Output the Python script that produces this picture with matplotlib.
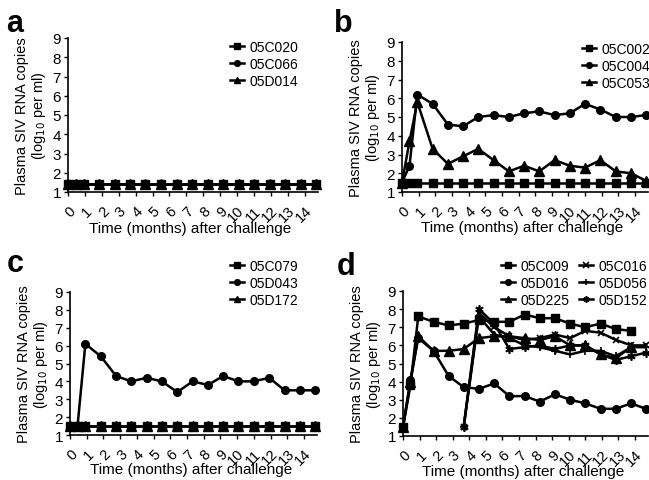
import numpy as np
import matplotlib
matplotlib.use("Agg")
import matplotlib.pyplot as plt

plt.rcParams['font.family'] = ['Liberation Sans', 'DejaVu Sans']

# sampling times (months after challenge), one every ~4 weeks
months = [0, 0.45, 0.92, 1.84, 2.76, 3.66, 4.58, 5.5, 6.42, 7.34, 8.25,
          9.17, 10.08, 11.0, 11.92, 12.84, 13.76, 14.65]
nan = np.nan

# panel a
a_05C020 = [1.4] * 18
a_05C066 = [1.4] * 18
a_05D014 = [1.4] * 18

# panel b
b_05C002 = [1.5] * 18
b_05C004 = [1.5, 2.4, 6.2, 5.7, 4.6, 4.5, 5.0, 5.1, 5.0, 5.2, 5.3, 5.1,
            5.2, 5.7, 5.4, 5.0, 5.0, 5.1]
b_05C053 = [1.5, 3.7, 5.8, 3.3, 2.5, 2.9, 3.3, 2.7, 2.1, 2.4, 2.1, 2.7,
            2.4, 2.3, 2.7, 2.1, 2.0, 1.6]

# panel c
c_05C079 = [1.5] * 18
c_05D043 = [1.5, 1.5, 6.1, 5.4, 4.3, 4.0, 4.2, 4.0, 3.4, 4.0, 3.8, 4.3,
            4.0, 4.0, 4.2, 3.5, 3.5, 3.5]
c_05D172 = [1.5] * 18

# panel d
d_05C009 = [1.5, 3.8, 7.6, 7.3, 7.1, 7.2, 7.4, 7.3, 7.3, 7.7, 7.5, 7.5,
            7.2, 7.0, 7.2, 6.9, 6.8, nan]
d_05D016 = [1.5, 4.1, 6.4, 5.7, 4.3, 3.7, 3.6, 3.9, 3.2, 3.2, 2.9, 3.3,
            3.0, 2.8, 2.5, 2.5, 2.8, 2.5]
d_05D225 = [1.5, 4.0, 6.5, 5.7, 5.7, 5.8, 6.4, 6.5, 6.5, 6.4, 6.3, 6.5,
            6.0, 6.0, 5.5, 5.3, 5.9, nan]
d_05C016 = [nan, nan, nan, nan, nan, 1.5, 7.8, 7.0, 6.5, 6.3, 6.4, 6.6,
            6.4, 6.8, 6.7, 6.3, 6.0, 6.0]
d_05D056 = [nan, nan, nan, nan, nan, 1.5, 7.6, 6.6, 6.4, 6.0, 5.9, 5.7,
            5.5, 5.7, 5.7, 5.4, 5.9, 5.9]
d_05D152 = [nan, nan, nan, nan, nan, 1.5, 8.0, 7.2, 5.8, 5.9, 6.0, 5.8,
            6.0, 6.0, 5.5, 5.2, 5.4, 5.6]

W, H = 649, 481
fig = plt.figure(figsize=(W / 100, H / 100), dpi=100)


def px_axes(left, top, right, bottom):
    return fig.add_axes([left / W, 1 - bottom / H, (right - left) / W, (bottom - top) / H])


styles = {
    's': dict(marker='s', ms=5.5),
    'o': dict(marker='o', ms=5.5),
    '^': dict(marker='^', ms=6.5),
    'x': dict(marker='x', ms=5, mew=1.2),
    '+': dict(marker='+', ms=6, mew=1.2),
    '*': dict(marker=(6, 2, 0), ms=6, mew=1.2),
}


def draw(ax, series):
    for name, vals, m in series:
        ax.plot(months, vals, color='black', lw=1.8, label=name, clip_on=False,
                **styles[m])
    ax.set_xlim(0, 14.78)
    ax.set_ylim(1, 9)
    ax.set_xticks(range(15))
    ax.set_xticklabels([str(i) for i in range(15)], rotation=45, ha='right',
                       rotation_mode='anchor', fontsize=10.5)
    ax.set_yticks(range(1, 10))
    ax.tick_params(axis='y', labelsize=11, length=3, width=1, pad=2)
    ax.tick_params(axis='x', length=3, width=1, pad=5)
    for s in ['top', 'right']:
        ax.spines[s].set_visible(False)
    for s in ['left', 'bottom']:
        ax.spines[s].set_linewidth(1.2)
    ax.set_xlabel('Time (months) after challenge', fontsize=11)
    ax.xaxis.set_label_coords(0.49, -0.19)
    ax.set_ylabel('Plasma SIV RNA copies\n(log$_{10}$ per ml)', fontsize=10.5,
                  linespacing=1.1)
    ax.yaxis.set_label_coords(-0.08, 0.5)


def leg(ax, x, y, ncol=1):
    fig.legend(*ax.get_legend_handles_labels(), loc='upper left',
               bbox_to_anchor=(x / W, 1 - y / H), frameon=False, fontsize=10,
               handlelength=1.0, handletextpad=0.4, labelspacing=0.2,
               markerscale=0.75, borderpad=0, borderaxespad=0, ncol=ncol,
               columnspacing=0.7)


ax_a = px_axes(68, 39, 318, 193)
draw(ax_a, [('05C020', a_05C020, 's'), ('05C066', a_05C066, 'o'),
            ('05D014', a_05D014, '^')])
leg(ax_a, 230, 41)

ax_b = px_axes(402, 43, 648, 193)
draw(ax_b, [('05C002', b_05C002, 's'), ('05C004', b_05C004, 'o'),
            ('05C053', b_05C053, '^')])
leg(ax_b, 582, 43)

ax_c = px_axes(70, 293, 317, 436)
draw(ax_c, [('05C079', c_05C079, 's'), ('05D043', c_05D043, 'o'),
            ('05D172', c_05D172, '^')])
leg(ax_c, 230, 260)

ax_d = px_axes(403, 292, 648, 437)
draw(ax_d, [('05C009', d_05C009, 's'), ('05D016', d_05D016, 'o'),
            ('05D225', d_05D225, '^'), ('05C016', d_05C016, 'x'),
            ('05D056', d_05D056, '+'), ('05D152', d_05D152, '*')])
leg(ax_d, 501, 260, ncol=2)

for letter, x, y in [('a', 6, 32), ('b', 334, 32), ('c', 7, 272), ('d', 337, 275)]:
    fig.text(x / W, 1 - y / H, letter, fontsize=22, fontweight='bold',
             va='baseline', ha='left')

fig.savefig('out.png', dpi=100)
